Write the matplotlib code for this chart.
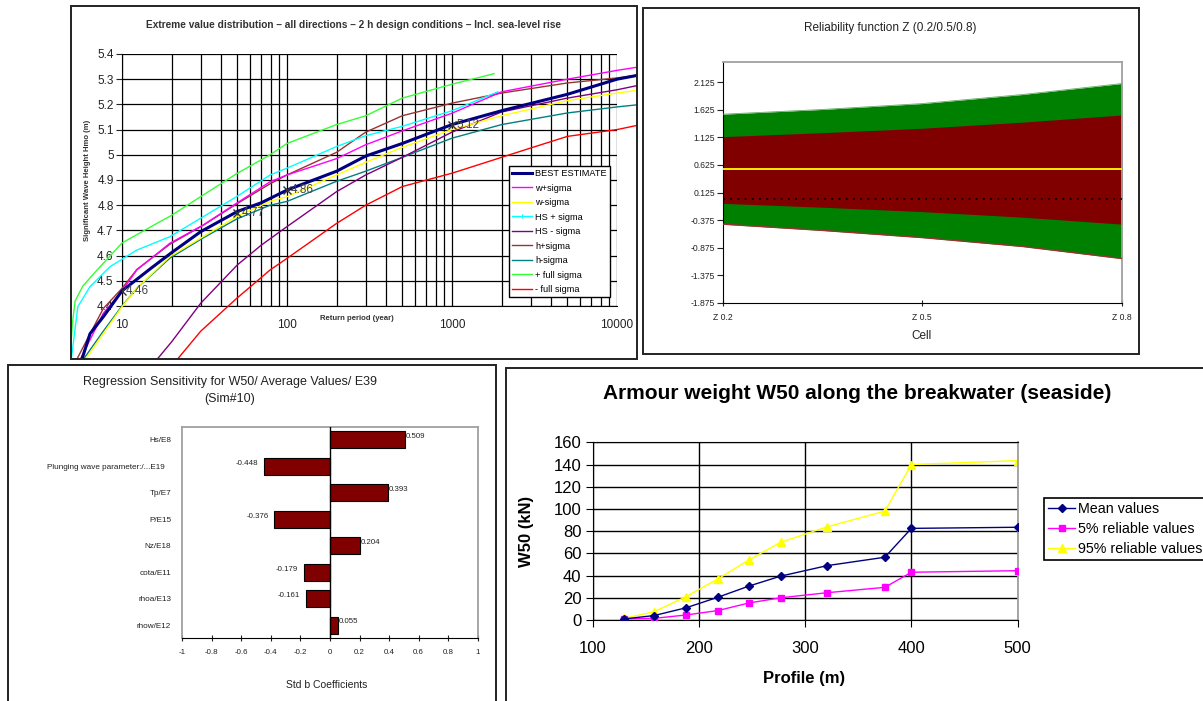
import matplotlib
matplotlib.use("Agg")
import matplotlib.pyplot as plt
from matplotlib.patches import Rectangle
from matplotlib.lines import Line2D
from matplotlib.ticker import FixedLocator, FixedFormatter, NullFormatter

plt.rcParams['font.family'] = ['Liberation Sans', 'DejaVu Sans']

# ---------------- Panel 1 data: extreme value distribution ----------------
best_T = [5.7, 6.4, 7.7, 10, 15, 20, 30, 50, 70, 100, 200, 300, 500, 1000, 2000, 5000, 10000, 14000]
best_H = [4.186, 4.29, 4.357, 4.46, 4.55, 4.612, 4.695, 4.775, 4.81, 4.86, 4.935, 4.995, 5.045, 5.12, 5.175, 5.24, 5.3, 5.318]
wp_T = [5.56, 7.7, 10, 12.3, 19.5, 31, 49.5, 79, 100, 200, 300, 500, 1000, 2000, 5000, 10000, 14000]
wp_H = [4.186, 4.371, 4.46, 4.543, 4.649, 4.721, 4.808, 4.893, 4.92, 4.985, 5.04, 5.095, 5.165, 5.25, 5.3, 5.335, 5.35]
wm_T = [5.97, 7.7, 10, 12.3, 19.5, 31, 49.5, 79, 100, 200, 300, 500, 1000, 2000, 5000, 10000, 14000]
wm_H = [4.186, 4.29, 4.397, 4.47, 4.596, 4.675, 4.755, 4.815, 4.834, 4.92, 4.97, 5.03, 5.10, 5.155, 5.215, 5.245, 5.258]
hsp_T = [4.95, 5.4, 6.4, 8.46, 12.3, 19.5, 31, 49.5, 79, 100, 200, 300, 500, 1000, 1900]
hsp_H = [4.199, 4.397, 4.477, 4.556, 4.622, 4.675, 4.754, 4.834, 4.92, 4.947, 5.033, 5.076, 5.113, 5.175, 5.25]
hsm_T = [16.2, 20, 30, 50, 70, 100, 200, 300, 500, 1000, 2000, 5000, 10000, 14000]
hsm_H = [4.186, 4.258, 4.411, 4.563, 4.642, 4.715, 4.854, 4.92, 4.99, 5.09, 5.17, 5.225, 5.258, 5.278]
hp_T = [5.3, 7.7, 10, 12.3, 19.5, 31, 49.5, 79, 100, 200, 300, 500, 1000, 2000, 5000, 10000, 14000]
hp_H = [4.186, 4.39, 4.47, 4.545, 4.645, 4.72, 4.805, 4.885, 4.92, 5.01, 5.09, 5.155, 5.205, 5.245, 5.285, 5.305, 5.318]
hm_T = [5.8, 7.7, 10, 12.3, 19.5, 31, 49.5, 79, 100, 200, 300, 500, 1000, 2000, 5000, 10000, 14000]
hm_H = [4.186, 4.30, 4.40, 4.47, 4.59, 4.67, 4.745, 4.80, 4.815, 4.895, 4.935, 4.99, 5.066, 5.12, 5.166, 5.19, 5.20]
fp_T = [4.85, 5.0, 5.2, 5.8, 7.0, 10, 15.5, 20, 31, 49.5, 79, 100, 200, 300, 500, 1000, 1800]
fp_H = [4.19, 4.33, 4.42, 4.48, 4.54, 4.65, 4.72, 4.76, 4.84, 4.925, 5.0, 5.045, 5.12, 5.155, 5.225, 5.28, 5.322]
fm_T = [21.5, 30, 49.5, 79, 100, 200, 300, 500, 1000, 2000, 3000, 5000, 10000, 14000]
fm_H = [4.186, 4.30, 4.43, 4.543, 4.589, 4.728, 4.80, 4.874, 4.927, 4.99, 5.027, 5.073, 5.10, 5.12]
mark_T = [10, 50, 100, 1000]
mark_H = [4.46, 4.77, 4.86, 5.12]
p1_xticks = [10, 100, 1000, 10000]
p1_yticks = [4.4, 4.5, 4.6, 4.7, 4.8, 4.9, 5.0, 5.1, 5.2, 5.3, 5.4]

# ---------------- Panel 2 data: reliability function ----------------
z_cells = [0.2, 0.35, 0.5, 0.65, 0.8]
green_hi = [1.544, 1.63, 1.737, 1.90, 2.10]
red_hi = [1.138, 1.21, 1.29, 1.40, 1.531]
red_lo = [-0.07, -0.14, -0.22, -0.32, -0.447]
green_lo = [-0.447, -0.56, -0.69, -0.85, -1.07]
z_mean = 0.55
z_yticks = [2.125, 1.625, 1.125, 0.625, 0.125, -0.375, -0.875, -1.375, -1.875]
z_xticks = [0.2, 0.5, 0.8]
z_xlabels = ['Z 0.2', 'Z 0.5', 'Z 0.8']

# ---------------- Panel 3 data: regression sensitivity ----------------
reg_labels = ['Hs/E8', 'Plunging wave parameter:/...E19   ', 'Tp/E7', 'P/E15', 'Nz/E18',
              'cota/E11', 'rhoa/E13', 'rhow/E12']
reg_values = [0.509, -0.448, 0.393, -0.376, 0.204, -0.179, -0.161, 0.055]
reg_xticks = [-1, -0.8, -0.6, -0.4, -0.2, 0, 0.2, 0.4, 0.6, 0.8, 1]

# ---------------- Panel 4 data: armour weight ----------------
profile = [130, 158, 188, 218, 247, 277, 321, 375, 400, 500]
mean_vals = [1, 4, 11, 20.5, 30.5, 39.5, 49, 56.5, 82.5, 83.5]
rel5_vals = [1, 1.5, 4.5, 8.5, 15.3, 20, 24.6, 29.4, 43, 44.4]
rel95_vals = [1.5, 7.5, 21, 37, 54, 70, 84, 98, 140, 143.5]

W, H = 1203, 701
fig = plt.figure(figsize=(W / 100, H / 100), dpi=100)


def rect(l, t, r, b):
    return [l / W, 1 - b / H, (r - l) / W, (b - t) / H]


def frame(l, t, r, b):
    p = Rectangle((l / W, 1 - b / H), (r - l) / W, (b - t) / H, transform=fig.transFigure,
                  fill=False, ec='#222222', lw=1.4, zorder=10)
    fig.add_artist(p)
    return p


def ftext(x, y, s, **kw):
    fig.text(x / W, 1 - y / H, s, **kw)


# ================= Panel 1 =================
f1 = frame(71, 6, 637, 359)
ax1 = fig.add_axes(rect(122, 54, 617, 306))
ax1.set_xscale('log')
ax1.set_xlim(10, 10000)
ax1.set_ylim(4.4, 5.4)
ax1.xaxis.set_major_locator(FixedLocator(p1_xticks))
ax1.xaxis.set_major_formatter(FixedFormatter([str(t) for t in p1_xticks]))
ax1.xaxis.set_minor_formatter(NullFormatter())
ax1.yaxis.set_major_locator(FixedLocator(p1_yticks))
ax1.yaxis.set_major_formatter(FixedFormatter(['%g' % v for v in p1_yticks]))
ax1.grid(True, which='both', color='black', lw=0.9)
ax1.tick_params(axis='x', which='both', length=0, pad=9, labelsize=8.5, colors='#222222')
ax1.tick_params(axis='y', length=4, pad=2, labelsize=8.5, colors='#222222')
for s in ['top', 'right']:
    ax1.spines[s].set_visible(False)
for s in ['left', 'bottom']:
    ax1.spines[s].set_color('black')

series1 = [
    (best_T, best_H, '#000080', 2.2, 'BEST ESTIMATE'),
    (wp_T, wp_H, '#FF00FF', 1.0, 'w+sigma'),
    (wm_T, wm_H, '#FFFF00', 1.0, 'w-sigma'),
    (hsp_T, hsp_H, '#00FFFF', 1.0, 'HS + sigma'),
    (hsm_T, hsm_H, '#800080', 1.0, 'HS - sigma'),
    (hp_T, hp_H, '#993333', 1.0, 'h+sigma'),
    (hm_T, hm_H, '#008080', 1.0, 'h-sigma'),
    (fp_T, fp_H, '#33FF33', 1.0, '+ full sigma'),
    (fm_T, fm_H, '#FF0000', 1.0, '- full sigma'),
]
handles = []
for T, Hs, c, lw, lab in reversed(series1):
    ln, = ax1.plot(T, Hs, color=c, lw=lw, zorder=3)
    ln.set_clip_path(f1)
for T, Hs, c, lw, lab in series1:
    if lab == 'HS + sigma':
        handles.append(Line2D([], [], color=c, lw=lw, marker='|', ms=3, markevery=[1], label=lab))
    else:
        handles.append(Line2D([], [], color=c, lw=lw, label=lab))

ax1.plot(mark_T, mark_H, ls='none', marker='x', color='#333333', ms=6, mew=1, zorder=4)
for t, h in zip(mark_T, mark_H):
    ax1.annotate('%.2f' % h, (t, h), xytext=(3, 0), textcoords='offset points',
                 va='center', ha='left', fontsize=8.5, color='#444444', zorder=5)

leg1 = ax1.legend(handles=handles, loc='upper left', bbox_to_anchor=(509 / W, 1 - 166 / H),
                  bbox_transform=fig.transFigure, fontsize=6.6, frameon=True, fancybox=False,
                  edgecolor='black', framealpha=1, borderpad=0.35, labelspacing=0.6,
                  handlelength=2.2, handletextpad=0.3, borderaxespad=0)
leg1.get_frame().set_linewidth(1.0)
leg1.set_zorder(6)

ftext(353, 25, 'Extreme value distribution \u2013 all directions \u2013 2 h design conditions \u2013 Incl. sea-level rise',
      ha='center', va='center', fontsize=7.3, fontweight='bold', color='#333333')
ftext(87, 180, 'Significant Wave Height Hmo (m)', ha='center', va='center', rotation=90,
      fontsize=5.6, fontweight='bold', color='#333333')
ftext(357, 319, 'Return period (year)', ha='center', va='center', fontsize=5.6,
      fontweight='bold', color='#333333')

# ================= Panel 2 =================
frame(643, 8, 1139, 354)
ax2 = fig.add_axes(rect(722.5, 62, 1122, 303))
ax2.fill_between(z_cells, green_lo, green_hi, color='#008000', lw=0, zorder=1)
ax2.fill_between(z_cells, red_lo, red_hi, color='#800000', lw=0, zorder=2)
ax2.plot(z_cells, green_lo, color='#993333', lw=1.0, zorder=3)
ax2.plot(z_cells, green_hi, color='#66AA66', lw=0.6, zorder=3)
ax2.axhline(z_mean, color='#FFFF00', lw=1.3, zorder=4)
ax2.axhline(0.0, color='black', lw=1.3, ls=(0, (1, 3)), zorder=4)
ax2.set_xlim(0.2, 0.8)
ax2.set_ylim(-1.875, 2.49)
ax2.set_yticks(z_yticks)
ax2.set_yticklabels(['%.3f' % v for v in z_yticks])
ax2.set_xticks(z_xticks)
ax2.set_xticklabels(z_xlabels)
ax2.tick_params(axis='y', length=4, pad=1.5, labelsize=6.2, colors='#222222')
ax2.tick_params(axis='x', length=5, direction='inout', pad=5, labelsize=6.2, colors='#222222')
for s in ['top', 'right']:
    ax2.spines[s].set_color('#A0A0A0')
    ax2.spines[s].set_linewidth(1.3)
for s in ['left', 'bottom']:
    ax2.spines[s].set_color('black')
ftext(890, 28, 'Reliability function Z (0.2/0.5/0.8)', ha='center', va='center', fontsize=8.5,
      color='#222222')
ftext(922, 336, 'Cell', ha='center', va='center', fontsize=8.5, color='#222222')

# ================= Panel 3 =================
frame(8, 365, 495.5, 712)
ax3 = fig.add_axes(rect(182.3, 426.7, 477.7, 638.3))
ypos = list(range(len(reg_values)))
ax3.barh(ypos, reg_values, height=0.64, color='#800000', edgecolor='black', lw=0.8, zorder=2)
for y, v in zip(ypos, reg_values):
    if v >= 0:
        ax3.text(v + 0.003, y - 0.12, '%.3f' % v, ha='left', va='center', fontsize=5.7, color='#222222')
    else:
        ax3.text(v - 0.04, y - 0.12, '%.3f' % v, ha='right', va='center', fontsize=5.7, color='#222222')
ax3.axvline(0, color='black', lw=1.0, zorder=3)
ax3.set_xlim(-1, 1)
ax3.set_ylim(len(reg_values) - 0.5, -0.5)
ax3.set_yticks(ypos)
ax3.set_yticklabels(reg_labels)
ax3.set_xticks(reg_xticks)
ax3.set_xticklabels(['%g' % v for v in reg_xticks])
ax3.tick_params(axis='y', length=0, pad=8, labelsize=5.9, colors='#222222')
ax3.tick_params(axis='x', length=5, direction='inout', pad=5, labelsize=5.7, colors='#222222')
for s in ['top', 'right', 'left']:
    ax3.spines[s].set_color('#A0A0A0')
    ax3.spines[s].set_linewidth(1.3)
ax3.spines['bottom'].set_color('black')
ftext(230, 382, 'Regression Sensitivity for W50/ Average Values/ E39', ha='center', va='center',
      fontsize=9, color='#222222')
ftext(230, 399, '(Sim#10)', ha='center', va='center', fontsize=9, color='#222222')
ftext(327, 685, 'Std b Coefficients', ha='center', va='center', fontsize=7.5, color='#222222')

# ================= Panel 4 =================
frame(506, 368, 1215, 715)
ax4 = fig.add_axes(rect(592.5, 442.3, 1017.7, 620))
ax4.plot(profile, mean_vals, color='#000080', lw=1.0, marker='D', ms=4, label='Mean values', zorder=4)
ax4.plot(profile, rel5_vals, color='#FF00FF', lw=1.0, marker='s', ms=5, label='5% reliable values', zorder=3)
ax4.plot(profile, rel95_vals, color='#FFFF00', lw=1.0, marker='^', ms=6, label='95% reliable values', zorder=2)
ax4.set_xlim(100, 500)
ax4.set_ylim(0, 160)
ax4.set_xticks([100, 200, 300, 400, 500])
ax4.set_yticks(list(range(0, 161, 20)))
ax4.grid(True, color='black', lw=1.0, zorder=0)
ax4.set_axisbelow(True)
ax4.tick_params(axis='y', length=5, pad=3, labelsize=12, colors='black')
ax4.tick_params(axis='x', length=5, pad=10, labelsize=12, colors='black')
ax4.spines['right'].set_color('#A0A0A0')
ax4.spines['right'].set_linewidth(1.3)
ax4.spines['top'].set_color('black')
ftext(857, 393, 'Armour weight W50 along the breakwater (seaside)', ha='center', va='center',
      fontsize=15, fontweight='bold', color='black')
ftext(527, 531, 'W50 (kN)', ha='center', va='center', rotation=90, fontsize=12,
      fontweight='bold', color='black')
ftext(804, 678, 'Profile (m)', ha='center', va='center', fontsize=12, fontweight='bold', color='black')
leg4 = ax4.legend(loc='upper left', bbox_to_anchor=(1044 / W, 1 - 498 / H), bbox_transform=fig.transFigure,
                  fontsize=10.3, frameon=True, fancybox=False, edgecolor='black', framealpha=1,
                  borderpad=0.3, labelspacing=0.4, handlelength=1.9, handletextpad=0.2, borderaxespad=0)
leg4.get_frame().set_linewidth(1.2)

fig.savefig('out.png', dpi=100)
